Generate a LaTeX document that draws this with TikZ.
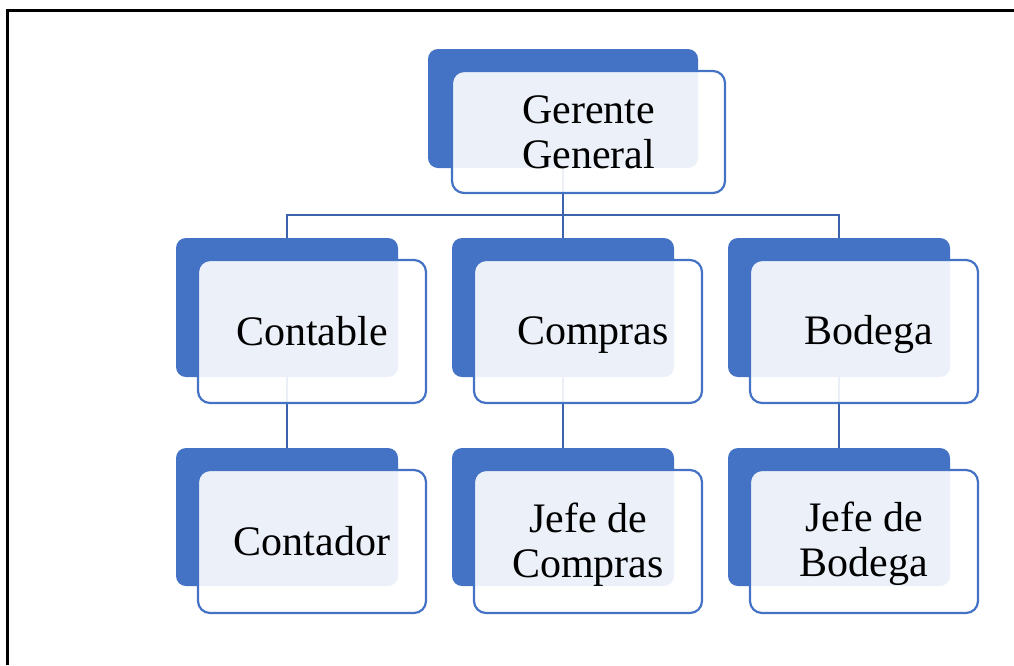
\documentclass[tikz,border=0pt]{standalone}
\usepackage{fontspec}
\setmainfont{Liberation Serif}
\definecolor{accent}{HTML}{4472C4}
\definecolor{linkblue}{HTML}{3B64AD}
% line strut: keeps every label centred on its cap height, whatever its descenders
\newcommand\capstrut{\rule[-7pt]{0pt}{42pt}}
\begin{document}
\begin{tikzpicture}[x=1pt,y=-1pt,
  back/.style={fill=accent,rounded corners=10pt,minimum width=222pt,minimum height=139pt,inner sep=0pt},
  card/.style={draw=accent,line width=2.2pt,fill=white,fill opacity=0.9,text opacity=1,
    rounded corners=12pt,minimum width=228pt,minimum height=143pt,inner sep=0pt,
    align=center,font=\fontsize{42}{45}\selectfont},
  link/.style={draw=linkblue,line width=2pt}]
\useasboundingbox (0,0) rectangle (1014,665);
% page frame
\draw[line width=3pt] (7,665) -- (7,10) -- (1014,10);

% back plates
\node[back,minimum width=270pt,minimum height=119pt] (gg) at (563,108.5) {};
\node[back] (ca) at (287,307.5) {};
\node[back] (co) at (563,307.5) {};
\node[back] (bo) at (839,307.5) {};
\node[back,minimum height=138pt] (ct) at (287,517) {};
\node[back,minimum height=138pt] (jc) at (563,517) {};
\node[back,minimum height=138pt] (jb) at (839,517) {};

% connectors
\coordinate (bus) at (563,215);
\draw[link] (gg.south) -- (gg.south |- bus) -| (ca.north);
\draw[link] (gg.south |- bus) -| (bo.north);
\draw[link] (gg.south) -- (co.north);
\draw[link] (ca.south) -- (ct.north);
\draw[link] (co.south) -- (jc.north);
\draw[link] (bo.south) -- (jb.north);

% front cards
\node[card,minimum width=273pt,minimum height=122pt] (ggf) at (588.5,132) {\capstrut Gerente\\\capstrut General};
\node[card] (caf) at (312,331.5) {\capstrut Contable};
\node[card] (cof) at (588,331.5) {\hspace*{10pt}\capstrut Compras};
\node[card] (bof) at (864,331.5) {\hspace*{10pt}\capstrut Bodega};
\node[card] (ctf) at (312,541.5) {\capstrut Contador};
\node[card] (jcf) at (588,541.5) {\capstrut Jefe de\\\capstrut Compras};
\node[card] (jbf) at (864,541.5) {\capstrut Jefe de\\\capstrut Bodega};
\end{tikzpicture}
\end{document}
